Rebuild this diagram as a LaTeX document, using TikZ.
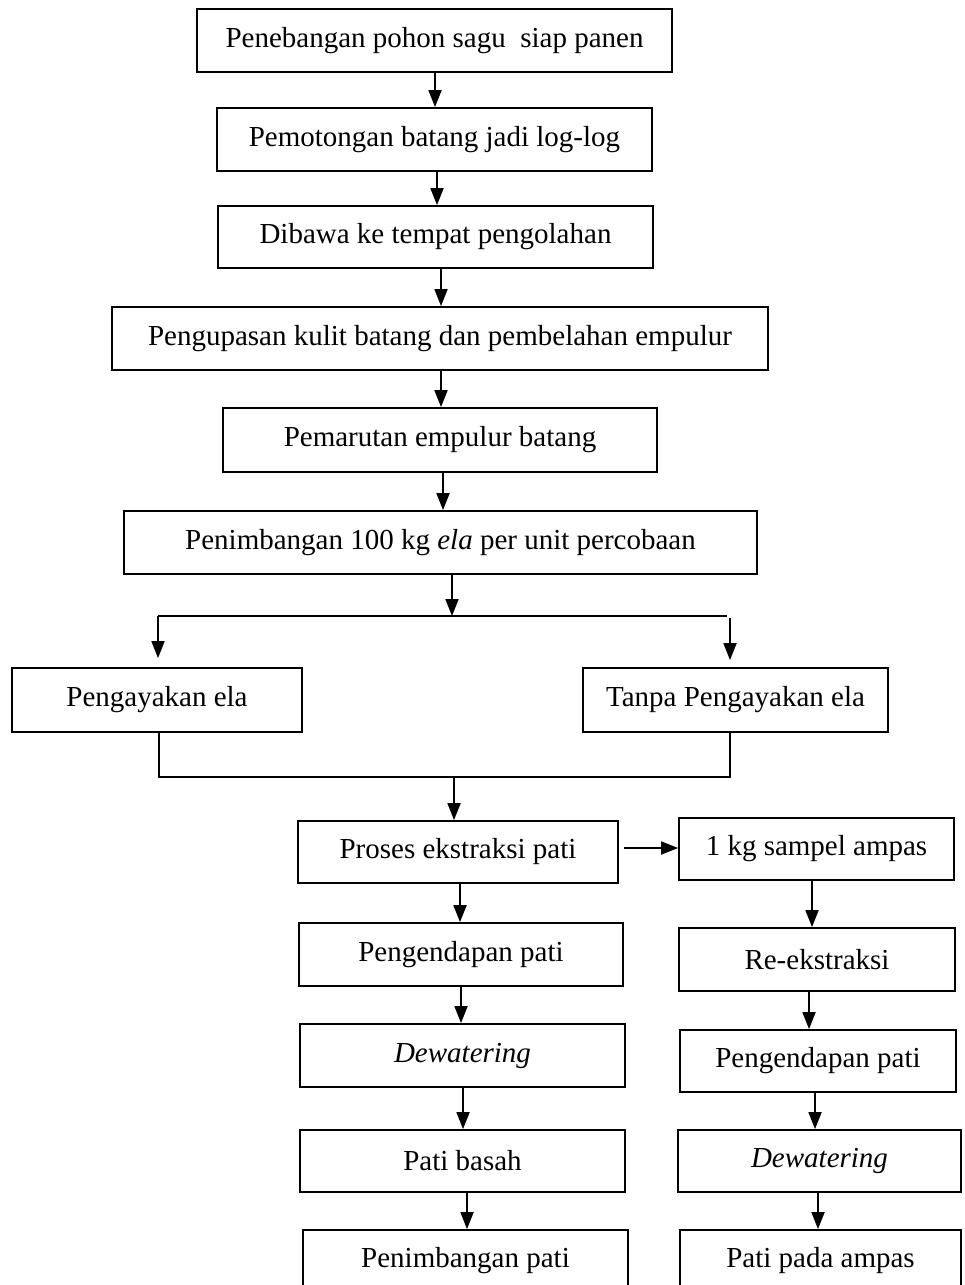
\documentclass[tikz,border=0pt]{standalone}
\usepackage{fontspec}
\setmainfont{Liberation Serif}
\usetikzlibrary{arrows.meta}
\begin{document}
\begin{tikzpicture}[x=1pt,y=-1pt,
  box/.style={draw=black, line width=1.8pt, inner sep=0pt, font=\fontsize{29}{34}\selectfont},
  arr/.style={line width=1.8pt, -{Triangle[width=13pt,length=17pt]}},
  ln/.style={line width=1.8pt}]
\clip (0,0) rectangle (965,1285);
\fill[white] (0,0) rectangle (965,1285);
% top chain
\node[box, minimum width=475pt, minimum height=63pt] (b1) at (434.5,40.5) {Penebangan pohon sagu\ \ siap panen};
\node[box, minimum width=435pt, minimum height=63pt] (b2) at (434.5,139.5) {Pemotongan batang jadi log-log};
\node[box, minimum width=435pt, minimum height=62pt] (b3) at (435.5,237) {Dibawa ke tempat pengolahan};
\node[box, minimum width=656pt, minimum height=63pt] (b4) at (440,338.5) {Pengupasan kulit batang dan pembelahan empulur};
\node[box, minimum width=434pt, minimum height=64pt] (b5) at (440,440) {Pemarutan empulur batang};
\node[box, minimum width=633pt, minimum height=63pt] (b6) at (440.5,542.5) {Penimbangan 100 kg \textit{ela} per unit percobaan};
% branches
\node[box, minimum width=290pt, minimum height=64pt] (L) at (157,700) {Pengayakan ela};
\node[box, minimum width=305pt, minimum height=64pt] (R) at (735.5,700) {Tanpa Pengayakan ela};
% left column
\node[box, minimum width=320pt, minimum height=62pt] (p1) at (458,852) {Proses ekstraksi pati};
\node[box, minimum width=324pt, minimum height=63pt] (p2) at (461,954.5) {Pengendapan pati};
\node[box, minimum width=325pt, minimum height=63pt] (p3) at (462.5,1055.5) {\textit{Dewatering}};
\node[box, minimum width=325pt, minimum height=62pt] (p4) at (462.5,1161) {Pati basah};
\node[box, minimum width=325pt, minimum height=62pt] (p5) at (465.5,1261) {Penimbangan pati};
% right column
\node[box, minimum width=275pt, minimum height=62pt] (q1) at (816.5,849) {1 kg sampel ampas};
\node[box, minimum width=276pt, minimum height=63pt] (q2) at (817,959.5) {Re-ekstraksi};
\node[box, minimum width=276pt, minimum height=62pt] (q3) at (818,1061) {Pengendapan pati};
\node[box, minimum width=283pt, minimum height=62pt] (q4) at (819.5,1161) {\textit{Dewatering}};
\node[box, minimum width=281pt, minimum height=62pt] (q5) at (820.5,1261) {Pati pada ampas};
% coordinates
\coordinate (split) at (452,616);
\coordinate (sl) at (158,616);
\coordinate (sr) at (727,616);
\coordinate (ml) at (159,777);
\coordinate (mr) at (730,777);
\coordinate (mm) at (454,777);
% top chain arrows
\draw[arr] (435,0 |- b1.south) -- (435,0 |- b2.north);
\draw[arr] (437,0 |- b2.south) -- (437,0 |- b3.north);
\draw[arr] (441,0 |- b3.south) -- (441,0 |- b4.north);
\draw[arr] (441,0 |- b4.south) -- (441,0 |- b5.north);
\draw[arr] (443,0 |- b5.south) -- (443,0 |- b6.north);
\draw[arr] (452,0 |- b6.south) -- (split);
% split
\draw[ln] (sl) -- (sr);
\draw[arr, shorten >=9pt] (sl) -- (sl |- L.north);
\draw[arr, shorten >=7pt] (730,618) -- (730,0 |- R.north);
% merge
\draw[ln] (ml |- L.south) -- (ml) -- (mr) -- (mr |- R.south);
\draw[arr] (mm) -- (mm |- p1.north);
% left column arrows
\draw[arr] (460,0 |- p1.south) -- (460,0 |- p2.north);
\draw[arr] (461,0 |- p2.south) -- (461,0 |- p3.north);
\draw[arr] (463,0 |- p3.south) -- (463,0 |- p4.north);
\draw[arr] (467,0 |- p4.south) -- (467,0 |- p5.north);
% side arrow
\draw[arr] ([xshift=5pt]p1.east |- 0,848) -- (q1.west |- 0,848);
% right column arrows
\draw[arr] (812,0 |- q1.south) -- (812,0 |- q2.north);
\draw[arr] (809,0 |- q2.south) -- (809,0 |- q3.north);
\draw[arr] (815,0 |- q3.south) -- (815,0 |- q4.north);
\draw[arr] (818,0 |- q4.south) -- (818,0 |- q5.north);
\end{tikzpicture}
\end{document}
